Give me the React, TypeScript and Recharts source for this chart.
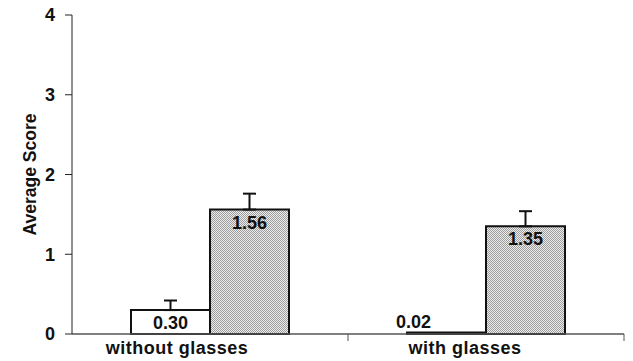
import React from "react";
import {
  BarChart,
  Bar,
  XAxis,
  YAxis,
  ErrorBar,
  LabelList,
} from "recharts";

const categories = ["without glasses", "with glasses"];
const whiteValues = [0.3, 0.02];
const grayValues = [1.56, 1.35];
const whiteErrors = [0.12, null];
const grayErrors = [0.2, 0.19];
const yTicks = [0, 1, 2, 3, 4];

const data = categories.map((name, i) => ({
  name,
  white: whiteValues[i],
  gray: grayValues[i],
  whiteErr: whiteErrors[i] == null ? null : [0, whiteErrors[i]],
  grayErr: grayErrors[i] == null ? null : [0, grayErrors[i]],
}));

const FONT = "'Liberation Sans', Arial, Helvetica, sans-serif";
const W = 633;
const H = 361;
const LEFT = 72;
const RIGHT = 9;
const HALF_BAND = (W - LEFT - RIGHT) / categories.length / 2;
// category labels sit a little left of the bar pair, as in the original
const labelShift = [-33, -21];

const CategoryTick = (props: any) => {
  const { x, y, payload, index } = props;
  return (
    <g>
      <line x1={x + HALF_BAND} x2={x + HALF_BAND} y1={y} y2={y + 7} stroke="#555" strokeWidth={1} />
      <text
        x={x + (labelShift[index] ?? 0)}
        y={y + 20}
        textAnchor="middle"
        fontFamily={FONT}
        fontWeight="bold"
        fontSize={18}
        letterSpacing={0.5}
        fill="#111"
      >
        {payload.value}
      </text>
    </g>
  );
};

const renderValueLabel = (props: any) => {
  const { x, y, width, height, value } = props;
  const small = height < 20;
  const cx = small ? x + width / 2 - 33 : x + width / 2;
  const ty = small ? y - 4 : y + 19;
  return (
    <text
      x={cx}
      y={ty}
      textAnchor="middle"
      fontFamily={FONT}
      fontWeight="bold"
      fontSize={18}
      fill="#111"
    >
      {Number(value).toFixed(2)}
    </text>
  );
};

export default function App() {
  return (
    <div style={{ position: "absolute", left: 0, top: 0, background: "#fff" }}>
      <BarChart
        width={W}
        height={H}
        data={data}
        margin={{ top: 15, right: RIGHT, left: 0, bottom: 0 }}
        barGap={0}
        barSize={79}
      >
        <defs>
          <pattern id="stipple" width="2" height="2" patternUnits="userSpaceOnUse">
            <rect width="2" height="2" fill="#ededed" />
            <rect width="1" height="1" fill="#9c9c9c" />
            <rect x="1" y="1" width="1" height="1" fill="#9c9c9c" />
          </pattern>
        </defs>
        <XAxis
          dataKey="name"
          height={27}
          tickSize={0}
          tickMargin={0}
          tickLine={false}
          axisLine={{ stroke: "#555", strokeWidth: 1.5 }}
          tick={<CategoryTick />}
        />
        <YAxis
          width={LEFT}
          domain={[0, 4]}
          ticks={yTicks}
          interval={0}
          tickSize={7}
          tickMargin={10}
          axisLine={{ stroke: "#222", strokeWidth: 1 }}
          tickLine={{ stroke: "#222", strokeWidth: 1 }}
          tick={{ fontFamily: FONT, fontWeight: "bold", fontSize: 18, fill: "#111" }}
          label={{
            value: "Average Score",
            angle: -90,
            position: "insideLeft",
            offset: 30,
            textAnchor: "middle",
            style: { fontFamily: FONT, fontWeight: "bold", fontSize: 17.5, fill: "#111", textAnchor: "middle" },
          }}
        />
        <Bar dataKey="white" fill="#fff" stroke="#111" strokeWidth={2} isAnimationActive={false}>
          <ErrorBar dataKey="whiteErr" width={6.5} stroke="#111" strokeWidth={2} />
          <LabelList dataKey="white" content={renderValueLabel} />
        </Bar>
        <Bar dataKey="gray" fill="url(#stipple)" stroke="#111" strokeWidth={2} isAnimationActive={false}>
          <ErrorBar dataKey="grayErr" width={6.5} stroke="#111" strokeWidth={2} />
          <LabelList dataKey="gray" content={renderValueLabel} />
        </Bar>
      </BarChart>
    </div>
  );
}
